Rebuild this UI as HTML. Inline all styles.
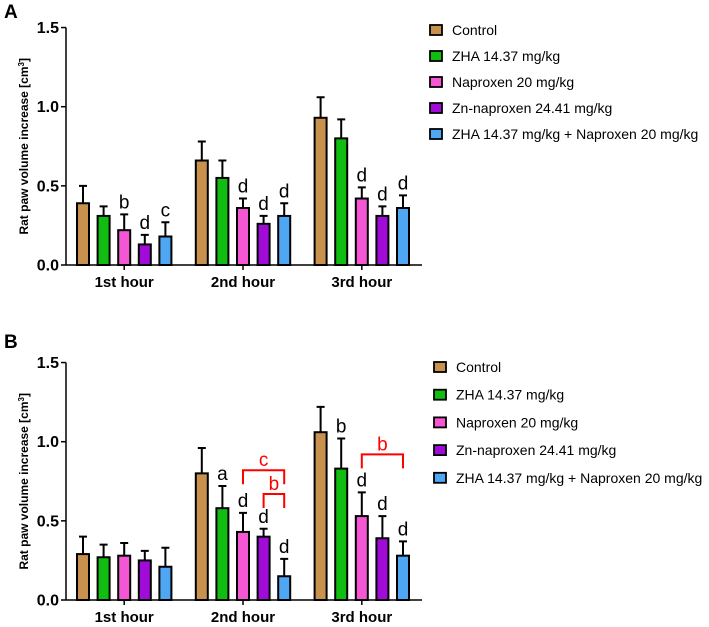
<!DOCTYPE html>
<html><head><meta charset="utf-8"><style>
body{margin:0;background:#fff;}
svg{display:block;font-family:"Liberation Sans",Arial,sans-serif;}
</style></head><body>
<svg id="c" width="709" height="627" viewBox="0 0 709 627" xmlns="http://www.w3.org/2000/svg"></svg>
<script>
const groups = ["1st hour","2nd hour","3rd hour"];
const seriesNames = ["Control","ZHA 14.37 mg/kg","Naproxen 20 mg/kg","Zn-naproxen 24.41 mg/kg","ZHA 14.37 mg/kg + Naproxen 20 mg/kg"];
const colors = ["#c8914e","#10bd10","#f557d4","#a10bd8","#4fa7f4"];
const yTicks = ["0.0","0.5","1.0","1.5"];
const aMeans = [[0.39,0.31,0.22,0.13,0.18],[0.66,0.55,0.36,0.26,0.31],[0.93,0.80,0.42,0.31,0.36]];
const aErrTop = [[0.50,0.37,0.32,0.19,0.27],[0.78,0.66,0.42,0.31,0.39],[1.06,0.92,0.49,0.37,0.44]];
const aLetters = [["","","b","d","c"],["","","d","d","d"],["","","d","d","d"]];
const bMeans = [[0.29,0.27,0.28,0.25,0.21],[0.80,0.58,0.43,0.40,0.15],[1.06,0.83,0.53,0.39,0.28]];
const bErrTop = [[0.40,0.35,0.36,0.31,0.33],[0.96,0.72,0.55,0.45,0.26],[1.22,1.02,0.68,0.53,0.37]];
const bLetters = [["","","","",""],["","a","d","d","d"],["","b","d","d","d"]];
// brackets: [group, fromBar, toBar, yValue, label]
const bBrackets = [[1,2,4,0.82,"c"],[1,3,4,0.67,"b"],[2,2,4,0.92,"b"]];

const NS="http://www.w3.org/2000/svg";
const svg=document.getElementById('c');
function mk(t,a,p){const e=document.createElementNS(NS,t);for(const k in a)e.setAttribute(k,a[k]);(p||svg).appendChild(e);return e;}

function panel(label,top,y0,means,errs,letters,brackets,legY,legStep,legX){
  const g=mk('g',{});
  
  
  const ppu=158.3;
  const y=v=>y0-v*ppu;
  const axX=66, axEnd=422;
  const barX=(gi,si)=>77+gi*118.8+si*20.6;
  const bw=12;
  const pl=mk('text',{x:4,y:top+18,'font-size':19,'font-weight':'bold'},g);pl.textContent=label;
  
  
  const yl=mk('text',{transform:`translate(28,${(y0+y(1.5))/2}) rotate(-90)`,'text-anchor':'middle','font-size':12,'font-weight':'bold'},g);
  yl.innerHTML='Rat paw volume increase [cm<tspan dy="-4" font-size="8">3</tspan><tspan dy="4">]</tspan>';
  
  
  mk('line',{x1:axX,y1:y(1.5),x2:axX,y2:y0,stroke:'#000','stroke-width':1.5},g);
  mk('line',{x1:axX,y1:y0,x2:axEnd,y2:y0,stroke:'#000','stroke-width':1.5},g);
  yTicks.forEach(t=>{const v=parseFloat(t);
    mk('line',{x1:axX-5,y1:y(v),x2:axX,y2:y(v),stroke:'#000','stroke-width':1.5},g);
    const tx=mk('text',{x:axX-7,y:y(v)+5.5,'text-anchor':'end','font-size':16,'font-weight':'bold'},g);tx.textContent=t;
    
    
  });
  groups.forEach((gn,gi)=>{
    const cx=barX(gi,2)+bw/2;
    mk('line',{x1:cx,y1:y0,x2:cx,y2:y0+5,stroke:'#000','stroke-width':1.5},g);
    const tx=mk('text',{x:cx,y:y0+22,'text-anchor':'middle','font-size':15,'font-weight':'bold'},g);tx.textContent=gn;
    
    
    means[gi].forEach((m,si)=>{
      const x=barX(gi,si);
      const r=mk('rect',{x:x,y:y(m),width:bw,height:y0-y(m),fill:colors[si],stroke:'#000','stroke-width':2},g);
      
      
      const ex=x+bw/2;
      const el=mk('path',{d:`M${ex},${y(m)}V${y(errs[gi][si])}M${ex-4},${y(errs[gi][si])}H${ex+4}`,stroke:'#000','stroke-width':2,fill:'none'},g);
      
      
      if(letters[gi][si]){const lt=mk('text',{x:ex,y:y(errs[gi][si])-6,'text-anchor':'middle','font-size':19},g);lt.textContent=letters[gi][si];
        
        }
    });
  });
  brackets.forEach(b=>{
    const x1=barX(b[0],b[1])+bw/2,x2=barX(b[0],b[2])+bw/2,yy=y(b[3]);
    const p=mk('path',{d:`M${x1},${yy+14}V${yy}H${x2}V${yy+14}`,stroke:'#f00','stroke-width':2,fill:'none'},g);
    
    
    const t=mk('text',{x:(x1+x2)/2,y:yy-4,'text-anchor':'middle','font-size':19,fill:'#f00'},g);t.textContent=b[4];
    
    
  });
  seriesNames.forEach((n,si)=>{
    const ly=legY+si*legStep;
    const r=mk('rect',{x:legX,y:ly-5,width:12,height:10,fill:colors[si],stroke:'#000','stroke-width':1.8},g);
    
    
    const t=mk('text',{x:legX+22,y:ly+5,'font-size':14},g);t.textContent=n;
    
    
  });
}
panel('A',0,265,aMeans,aErrTop,aLetters,[],30,26,430);
panel('B',330,600,bMeans,bErrTop,bLetters,bBrackets,367,27.7,434);
</script>
</body></html>
